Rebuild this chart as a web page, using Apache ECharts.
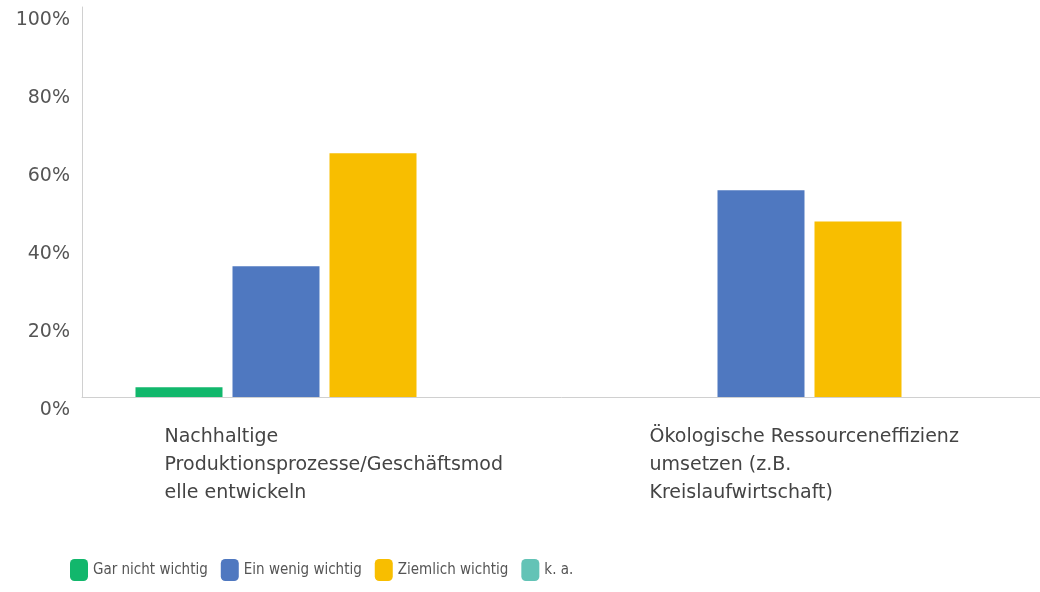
<!DOCTYPE html>
<html>
<head>
<meta charset="utf-8">
<script src="https://cdn.jsdelivr.net/npm/echarts@6/dist/echarts.min.js"></script>
<style>
html,body{margin:0;padding:0;background:#fff;}
#chart{width:1040px;height:592px;}
</style>
</head>
<body>
<div id="chart"></div>
<script>
const categories = [
  "Nachhaltige\nProduktionsprozesse/Geschäftsmod\nelle entwickeln",
  "Ökologische Ressourceneffizienz\numsetzen (z.B.\nKreislaufwirtschaft)"
];
const seriesNames = ["Gar nicht wichtig", "Ein wenig wichtig", "Ziemlich wichtig", "k. a."];
const garNichtWichtig = [2.5, 0];
const einWenigWichtig = [33.5, 53];
const ziemlichWichtig = [62.5, 45];
const keineAngabe = [0, 0];
const yTicks = [0, 20, 40, 60, 80, 100];

const colors = ["#12b76c", "#4f78c0", "#f8be00", "#63c3b6"];
const values = [garNichtWichtig, einWenigWichtig, ziemlichWichtig, keineAngabe];

const chart = echarts.init(document.getElementById('chart'), null, {renderer: 'canvas'});
chart.setOption({
  animation: false,
  color: colors,
  grid: {left: 82, width: 970, top: 7, height: 390, containLabel: false, outerBoundsMode: 'none'},
  legend: {
    left: 65,
    top: 554,
    itemWidth: 18,
    itemHeight: 22,
    itemGap: 13,
    icon: 'roundRect',
    textStyle: {fontFamily: '"Liberation Sans Narrow", "DejaVu Sans Condensed", Roboto, sans-serif', fontSize: 15, color: '#555'},
    data: seriesNames
  },
  xAxis: {
    type: 'category',
    data: categories,
    axisLine: {show: true, lineStyle: {color: '#d0d0d0', width: 1}},
    axisTick: {show: false},
    axisLabel: {
      interval: 0,
      align: 'left',
      margin: 26,
      padding: [0, 0, 0, -160],
      lineHeight: 28,
      fontFamily: '"DejaVu Sans", sans-serif',
      fontSize: 19,
      color: '#444'
    }
  },
  yAxis: {
    type: 'value',
    min: yTicks[0],
    max: yTicks[yTicks.length - 1],
    interval: 20,
    axisLine: {show: true, lineStyle: {color: '#d0d0d0', width: 1}},
    axisTick: {show: false},
    splitLine: {show: false},
    axisLabel: {
      formatter: '{value}%',
      margin: 12,
      verticalAlign: 'top',
      padding: [4, 0, 0, 0],
      fontFamily: '"DejaVu Sans", sans-serif',
      fontSize: 19,
      color: '#555'
    }
  },
  series: seriesNames.map((name, i) => ({
    name: name,
    type: 'bar',
    data: values[i],
    barWidth: 87,
    barGap: '11.5%',
    itemStyle: {color: colors[i]}
  }))
});
</script>
</body>
</html>
